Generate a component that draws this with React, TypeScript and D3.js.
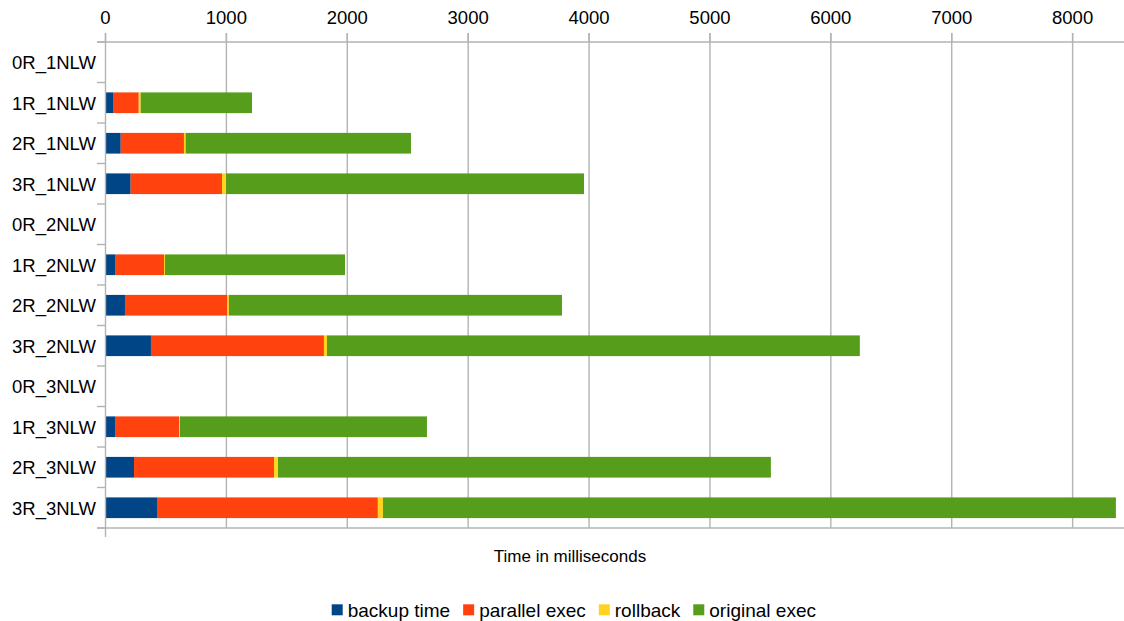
import React from "react";
import * as d3 from "d3";

const categories = [
  "0R_1NLW", "1R_1NLW", "2R_1NLW", "3R_1NLW",
  "0R_2NLW", "1R_2NLW", "2R_2NLW", "3R_2NLW",
  "0R_3NLW", "1R_3NLW", "2R_3NLW", "3R_3NLW",
];
const backupTime = [0, 62, 126, 208, 0, 84, 161, 376, 0, 84, 236, 426];
const parallelExec = [0, 213, 523, 756, 0, 400, 844, 1431, 0, 524, 1158, 1827];
const rollback = [0, 16, 14, 33, 0, 8, 16, 25, 0, 8, 33, 42];
const originalExec = [0, 921, 1864, 2961, 0, 1489, 2755, 4408, 0, 2043, 4077, 6063];
const seriesNames = ["backup time", "parallel exec", "rollback", "original exec"];
const seriesColors = ["#004586", "#ff420e", "#ffd320", "#579d1c"];
const xTicks = [0, 1000, 2000, 3000, 4000, 5000, 6000, 7000, 8000];
const xMax = 8425;
const axisTitle = "Time in milliseconds";

const W = 1124;
const H = 621;
const FONT = "'Liberation Sans', Arial, sans-serif";

function measure(text: string, size: number) {
  const c = document.createElement("canvas");
  const ctx = c.getContext("2d")!;
  ctx.font = `${size}px 'Liberation Sans'`;
  return ctx.measureText(text).width;
}

export default function App() {
  const left = 105.5;
  const right = 1124;
  const top = 42;
  const bottom = 528;
  const x = d3.scaleLinear().domain([0, xMax]).range([left, right]);
  const y = d3
    .scaleBand<string>()
    .domain(categories)
    .range([top, bottom])
    .paddingInner(0.489)
    .paddingOuter(0.2445);

  const rows = categories.map((c, i) => ({
    cat: c,
    s0: backupTime[i],
    s1: parallelExec[i],
    s2: rollback[i],
    s3: originalExec[i],
  }));
  const stack = d3.stack<any>().keys(["s0", "s1", "s2", "s3"]);
  const stacked = stack(rows);
  const step = y.step();
  const boundaries = d3.range(categories.length + 1).map((k) => top + k * step);

  // legend layout
  const legSize = 19;
  const sq = 11;
  const sqGap = 5;
  const itemGap = 13;
  let lx = 331.7;
  const legend = seriesNames.map((n, i) => {
    const item = { name: n, color: seriesColors[i], x: lx };
    lx += sq + sqGap + measure(n, legSize) + itemGap;
    return item;
  });

  const grid = "#b3b3b3";

  return (
    <svg
      width={W}
      height={H}
      style={{ position: "absolute", left: 0, top: 0, background: "#fff" }}
      fontFamily={FONT}
    >
      <rect x={0} y={0} width={W} height={H} fill="#fff" />
      {/* gridlines */}
      {xTicks.filter((t) => t > 0).map((t) => (
        <line key={"g" + t} x1={x(t)} x2={x(t)} y1={33} y2={bottom} stroke={grid} strokeWidth={1.4} />
      ))}
      {/* top ticks */}
      {xTicks.map((t) => (
        <line key={"t" + t} x1={x(t)} x2={x(t)} y1={33} y2={top} stroke={grid} strokeWidth={1.4} />
      ))}
      {/* bars */}
      {stacked.map((layer, si) => (
        <g key={si} fill={seriesColors[si]}>
          {layer.map((d: any, i: number) =>
            d[1] - d[0] > 0 ? (
              <rect
                key={i}
                x={x(d[0])}
                width={x(d[1]) - x(d[0])}
                y={y(categories[i])!}
                height={y.bandwidth()}
              />
            ) : null
          )}
        </g>
      ))}
      {/* axes lines */}
      <line x1={97} x2={right} y1={top} y2={top} stroke={grid} strokeWidth={1.4} />
      <line x1={97} x2={right} y1={bottom} y2={bottom} stroke={grid} strokeWidth={1.4} />
      <line x1={left} x2={left} y1={33} y2={537} stroke={grid} strokeWidth={1.4} />
      {boundaries.map((b, k) => (
        <line key={"b" + k} x1={97} x2={left} y1={b} y2={b} stroke={grid} strokeWidth={1.4} />
      ))}
      {/* x tick labels */}
      {xTicks.map((t) => (
        <text key={"l" + t} x={x(t)} y={24} textAnchor="middle" fontSize={18.5} fill="#000">
          {t}
        </text>
      ))}
      {/* category labels */}
      {categories.map((c) => (
        <text
          key={c}
          x={96}
          y={y(c)! + y.bandwidth() / 2 + 7}
          textAnchor="end"
          fontSize={18.5}
          fill="#000"
        >
          {c}
        </text>
      ))}
      {/* axis title */}
      <text x={570} y={562} textAnchor="middle" fontSize={17} fill="#000">
        {axisTitle}
      </text>
      {/* legend */}
      {legend.map((l) => (
        <g key={l.name}>
          <rect x={l.x} y={604.3} width={sq} height={sq} fill={l.color} />
          <text x={l.x + sq + sqGap} y={617} fontSize={legSize} fill="#000">
            {l.name}
          </text>
        </g>
      ))}
    </svg>
  );
}
